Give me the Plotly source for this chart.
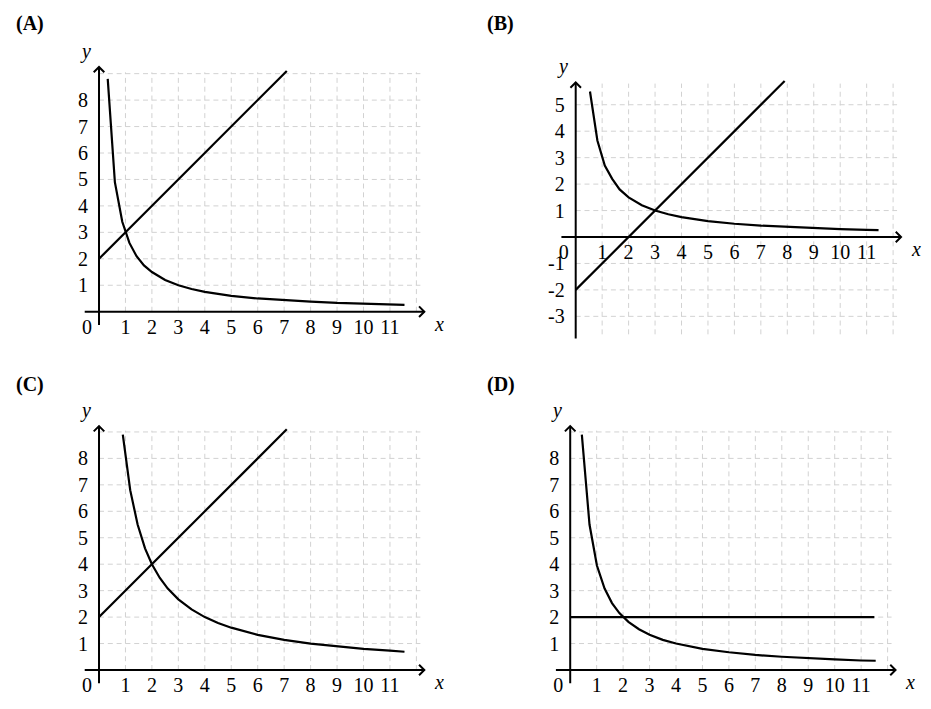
import plotly.graph_objects as go

# Curvas e retas (4 painéis)
a_curve_x = [0.33, 0.6, 0.88, 1.15, 1.42, 1.7, 2.0, 2.5, 3, 3.5, 4, 5, 6, 7, 8, 9, 10, 11, 11.55]
a_curve_y = [8.8, 4.9, 3.4, 2.6, 2.1, 1.75, 1.5, 1.2, 1.0, 0.86, 0.75, 0.6, 0.5, 0.43, 0.38, 0.33, 0.3, 0.27, 0.26]
a_line_x = [0, 7.1]
a_line_y = [2, 9.1]

b_curve_x = [0.54, 0.82, 1.1, 1.38, 1.66, 2.0, 2.5, 3, 3.5, 4, 5, 6, 7, 8, 9, 10, 11, 11.45]
b_curve_y = [5.5, 3.65, 2.7, 2.2, 1.8, 1.5, 1.2, 1.0, 0.86, 0.75, 0.6, 0.5, 0.43, 0.38, 0.33, 0.3, 0.27, 0.26]
b_line_x = [0, 7.9]
b_line_y = [-2, 5.9]

c_curve_x = [0.9, 1.18, 1.46, 1.74, 2.0, 2.3, 2.6, 3, 3.5, 4, 4.5, 5, 6, 7, 8, 9, 10, 11, 11.55]
c_curve_y = [8.9, 6.8, 5.5, 4.6, 4.0, 3.48, 3.08, 2.67, 2.29, 2.0, 1.78, 1.6, 1.33, 1.14, 1.0, 0.89, 0.8, 0.73, 0.69]
c_line_x = [0, 7.1]
c_line_y = [2, 9.1]

d_curve_x = [0.44, 0.73, 1.01, 1.3, 1.58, 1.86, 2.2, 2.6, 3, 3.5, 4, 5, 6, 7, 8, 9, 10, 11, 11.55]
d_curve_y = [8.9, 5.5, 3.95, 3.08, 2.53, 2.15, 1.82, 1.54, 1.33, 1.14, 1.0, 0.8, 0.67, 0.57, 0.5, 0.44, 0.4, 0.36, 0.35]
d_line_x = [0, 11.5]
d_line_y = [2, 2]

# rótulos dos eixos
x_ticks = list(range(1, 12))
y_ticks_pos = list(range(1, 9))
y_ticks_b = [-3, -2, -1, 1, 2, 3, 4, 5]
grid_cols = list(range(1, 13))

# a pagina tem margem de 8px no body
OFF = 8
W, H = 931 - 2 * OFF, 709 - 2 * OFF
U = 26.45  # pixels por unidade
FONT = 'Liberation Serif, serif'
FS = 20

panels = [
    dict(label='(A)', lx=14, ly=24, ox=99, oy=311.7, cx=a_curve_x, cy=a_curve_y, lnx=a_line_x, lny=a_line_y,
         yticks=y_ticks_pos, ax_y=(-0.5, 9.25), grid_y=(0, 9.05), rows=list(range(1, 10))),
    dict(label='(B)', lx=485, ly=24, ox=575.7, oy=237, cx=b_curve_x, cy=b_curve_y, lnx=b_line_x, lny=b_line_y,
         yticks=y_ticks_b, ax_y=(-3.84, 5.84), grid_y=(-3.68, 5.8), rows=[-3, -2, -1, 1, 2, 3, 4, 5]),
    dict(label='(C)', lx=14, ly=384, ox=99, oy=670, cx=c_curve_x, cy=c_curve_y, lnx=c_line_x, lny=c_line_y,
         yticks=y_ticks_pos, ax_y=(-0.5, 9.22), grid_y=(0, 9.05), rows=list(range(1, 10))),
    dict(label='(D)', lx=485, ly=384, ox=570.2, oy=670, cx=d_curve_x, cy=d_curve_y, lnx=d_line_x, lny=d_line_y,
         yticks=y_ticks_pos, ax_y=(-0.5, 9.22), grid_y=(0, 9.05), rows=list(range(1, 10))),
]


def px(x):
    return (x - OFF) / W


def py(y):
    return (H - (y - OFF)) / H


fig = go.Figure()
layout = dict(width=W, height=H, margin=dict(l=0, r=0, t=0, b=0), showlegend=False,
              plot_bgcolor='white', paper_bgcolor='white', annotations=[])

ax_x = (-0.54, 12.3)
arm = 0.2
for i, p in enumerate(panels, start=1):
    xa = 'x' if i == 1 else f'x{i}'
    ya = 'y' if i == 1 else f'y{i}'
    xr = [-0.7, 12.5]
    yr = [p['ax_y'][0] - 0.1, p['ax_y'][1] + 0.1]

    # grade tracejada
    gx, gy = [], []
    for v in grid_cols:
        gx += [v, v, None]
        gy += [p['grid_y'][0], p['grid_y'][1], None]
    for h in p['rows']:
        gx += [0, 12.15, None]
        gy += [h, h, None]
    fig.add_trace(go.Scatter(x=gx, y=gy, mode='lines', hoverinfo='skip',
                             line=dict(color='#d2d2d2', width=1, dash='5px,3.8px'), xaxis=xa, yaxis=ya))

    # eixos com setas
    y0, y1 = p['ax_y']
    axx = [ax_x[0], ax_x[1], None, ax_x[1] - arm, ax_x[1], ax_x[1] - arm, None,
           0, 0, None, -arm, 0, arm]
    axy = [0, 0, None, arm, 0, -arm, None,
           y0, y1, None, y1 - arm, y1, y1 - arm]
    fig.add_trace(go.Scatter(x=axx, y=axy, mode='lines', hoverinfo='skip',
                             line=dict(color='black', width=2), xaxis=xa, yaxis=ya))

    # curva e reta
    fig.add_trace(go.Scatter(x=p['cx'], y=p['cy'], mode='lines', line=dict(color='black', width=2.2),
                             xaxis=xa, yaxis=ya))
    fig.add_trace(go.Scatter(x=p['lnx'], y=p['lny'], mode='lines', line=dict(color='black', width=2.2),
                             xaxis=xa, yaxis=ya))

    ox, oy = p['ox'], p['oy']
    dom_x = [px(ox + U * xr[0]), px(ox + U * xr[1])]
    dom_y = [py(oy - U * yr[0]), py(oy - U * yr[1])]
    key = '' if i == 1 else str(i)
    layout['xaxis' + key] = dict(
        domain=dom_x, range=xr, anchor='free', position=py(oy - 3),
        showgrid=False, zeroline=False, showline=False, tickmode='array',
        tickvals=[-0.45] + x_ticks, ticktext=['0'] + [str(t) for t in x_ticks],
        ticks='outside', ticklen=0, tickcolor='rgba(0,0,0,0)', tickangle=0,
        tickfont=dict(family=FONT, size=FS, color='black'), fixedrange=True)
    layout['yaxis' + key] = dict(
        domain=dom_y, range=yr, anchor='free', position=px(ox),
        showgrid=False, zeroline=False, showline=False, tickmode='array',
        tickvals=p['yticks'], ticktext=[str(t) for t in p['yticks']],
        ticks='outside', ticklen=7, tickcolor='rgba(0,0,0,0)',
        tickfont=dict(family=FONT, size=FS, color='black'), fixedrange=True)

    layout['annotations'] += [
        dict(text='<b>' + p['label'] + '</b>', x=px(p['lx']), y=py(p['ly']), xref='paper', yref='paper',
             xanchor='left', yanchor='middle', showarrow=False, font=dict(family=FONT, size=FS, color='black')),
        dict(text='<i>x</i>', x=px(ox + U * 12.85), y=py(oy + U * 0.45), xref='paper', yref='paper',
             xanchor='center', yanchor='middle', showarrow=False, font=dict(family=FONT, size=FS, color='black')),
        dict(text='<i>y</i>', x=px(ox - U * 0.5), y=py(oy - U * (y1 + 0.6)), xref='paper', yref='paper',
             xanchor='center', yanchor='middle', showarrow=False, font=dict(family=FONT, size=FS, color='black')),
    ]

fig.update_layout(**layout)
fig.write_html('out.html')
